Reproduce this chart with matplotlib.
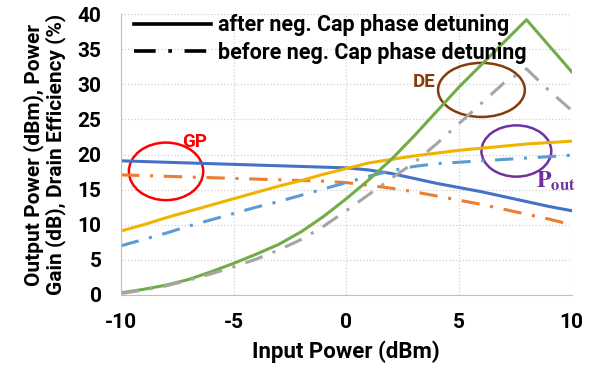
import matplotlib
matplotlib.use('Agg')
import matplotlib.pyplot as plt
from matplotlib.lines import Line2D
from matplotlib.patches import Ellipse

plt.rcParams['font.family'] = ['Roboto', 'DejaVu Sans']
plt.rcParams['font.weight'] = 'bold'
plt.rcParams['mathtext.fontset'] = 'stix'
plt.rcParams['axes.unicode_minus'] = False

# input power (dBm)
pin = [-10, -9, -8, -7, -6, -5, -4, -3, -2, -1, 0, 1, 2, 3, 4, 5, 6, 7, 8, 9, 10]

# power gain (dB)
gp_after = [19.1, 19.0, 18.9, 18.8, 18.7, 18.6, 18.5, 18.4, 18.3, 18.2, 18.1,
            17.8, 17.3, 16.6, 15.9, 15.3, 14.7, 14.0, 13.3, 12.6, 12.0]
gp_before = [17.1, 17.0, 16.9, 16.8, 16.7, 16.6, 16.5, 16.4, 16.3, 16.2, 16.0,
             15.6, 15.2, 14.7, 14.1, 13.5, 12.9, 12.2, 11.5, 10.8, 10.0]
# output power (dBm)
pout_after = [9.1, 10.0, 11.0, 11.9, 12.8, 13.7, 14.6, 15.5, 16.3, 17.2, 18.0,
              18.8, 19.3, 19.8, 20.2, 20.6, 20.9, 21.2, 21.5, 21.7, 21.9]
pout_before = [7.0, 7.9, 8.8, 9.8, 10.7, 11.6, 12.5, 13.3, 14.2, 15.1, 16.0,
               16.9, 17.7, 18.3, 18.7, 18.9, 19.1, 19.3, 19.5, 19.7, 19.9]
# drain efficiency (%)
de_after = [0.3, 0.8, 1.4, 2.2, 3.3, 4.5, 5.8, 7.2, 9.0, 11.2, 13.7,
            16.4, 19.3, 22.6, 26.1, 29.6, 32.8, 36.0, 39.2, 35.5, 31.8]
de_before = [0.2, 0.7, 1.3, 2.1, 3.0, 4.0, 5.1, 6.4, 7.9, 9.8, 12.0,
             14.3, 16.6, 18.8, 21.5, 24.4, 27.3, 30.2, 32.2, 29.1, 26.3]

legend_labels = ['after neg. Cap phase detuning', 'before neg. Cap phase detuning']

lw = 2.2
dd = (0, (6, 3.5, 1, 3.5))

fig = plt.figure(figsize=(5.96, 3.71), dpi=100)
ax = fig.add_axes([0.203, 0.205, 0.756, 0.757])

ax.plot(pin, gp_after, color='#4472C4', lw=lw)
ax.plot(pin, gp_before, color='#ED7D31', lw=lw, ls=dd)
ax.plot(pin, pout_after, color='#F0B400', lw=lw)
ax.plot(pin, pout_before, color='#5B9BD5', lw=lw, ls=dd)
ax.plot(pin, de_after, color='#70AD47', lw=lw)
ax.plot(pin, de_before, color='#A5A5A5', lw=lw, ls=dd)

ax.set_xlim(-10, 10)
ax.set_ylim(0, 40)
ax.set_xticks([-10, -5, 0, 5, 10])
ax.set_yticks(range(0, 41, 5))
ax.grid(True, color='#D0D0D0', ls=':', lw=0.9)
ax.set_axisbelow(True)
for s in ['top', 'right']:
    ax.spines[s].set_visible(False)
for s in ['left', 'bottom']:
    ax.spines[s].set_color('#BFBFBF')
ax.tick_params(length=0, labelsize=15)
ax.tick_params(axis='y', pad=14)
ax.tick_params(axis='x', pad=13)

ax.set_xlabel('Input Power (dBm)', fontsize=16, fontweight='bold', labelpad=6)
ax.set_ylabel('Output Power (dBm), Power\nGain (dB), Drain Efficiency (%)',
              fontsize=15, fontweight='bold', labelpad=8, linespacing=1.1)

# annotations
ax.add_patch(Ellipse((-8.0, 17.6), 3.3, 8.2, fill=False, ec='red', lw=1.8))
ax.add_patch(Ellipse((6.0, 29.2), 3.85, 7.7, fill=False, ec='#843C0C', lw=1.8))
ax.add_patch(Ellipse((7.55, 20.5), 3.1, 7.3, fill=False, ec='#7030A0', lw=1.8))
ax.text(-6.72, 21.8, 'GP', color='red', fontsize=13.5, fontweight='bold', ha='center', va='center')
ax.text(3.44, 30.3, 'DE', color='#843C0C', fontsize=13.5, fontweight='bold', ha='center', va='center')
ax.text(9.3, 16.2, r'$\mathbf{P}_{\mathbf{out}}$', color='#7030A0', fontsize=17,
        ha='center', va='center', clip_on=False)

handles = [Line2D([], [], color='black', lw=2.6),
           Line2D([], [], color='black', lw=2.6, ls=dd)]
ax.legend(handles, legend_labels, loc='upper left', bbox_to_anchor=(0.0, 1.045),
          frameon=False, fontsize=15.5, handlelength=3.6, handletextpad=0.3,
          labelspacing=0.25, borderaxespad=0.2)

plt.savefig('out.png', dpi=100)
plt.close()
